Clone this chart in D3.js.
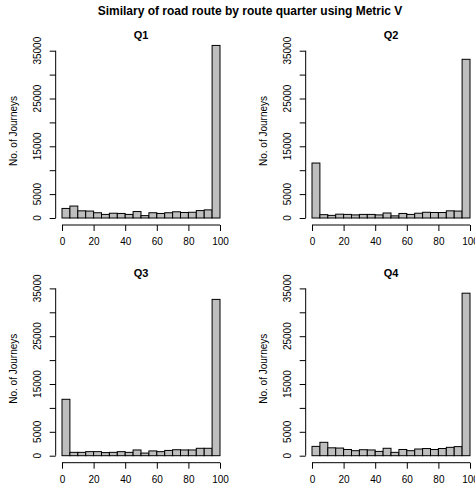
<!DOCTYPE html>
<html><head><meta charset="utf-8">
<script src="https://cdn.jsdelivr.net/npm/d3@7"></script>
<style>body{margin:0;background:#fff}svg{display:block}text{font-family:"Liberation Sans",Arial,Helvetica,sans-serif;fill:#000}</style>
</head><body>
<script>
const mainTitle = "Similary of road route by route quarter using Metric V";
const panelTitles = ["Q1", "Q2", "Q3", "Q4"];
const yLabel = "No. of Journeys";
const binStarts = [0,5,10,15,20,25,30,35,40,45,50,55,60,65,70,75,80,85,90,95];
const binWidth = 5;
const q1Counts = [2000,2500,1500,1450,1100,750,1000,950,750,1350,500,1100,950,1100,1300,1150,1200,1550,1700,36100];
const q2Counts = [11500,700,550,800,750,650,750,750,650,1050,450,950,750,1000,1200,1150,1150,1500,1450,33200];
const q3Counts = [11800,700,700,850,850,650,700,850,700,1200,550,1000,850,1100,1250,1200,1200,1550,1550,32700];
const q4Counts = [1950,2800,1650,1600,1300,1050,1250,1200,900,1550,700,1300,1050,1400,1500,1300,1500,1750,1900,34000];
const xTicks = [0,20,40,60,80,100];
const yTicks = [0,5000,10000,15000,20000,25000,30000,35000];
const yTickLabels = [0,5000,15000,25000,35000];

const allCounts = [q1Counts, q2Counts, q3Counts, q4Counts];

const W = 475, H = 487;
const svg = d3.select("body").append("svg").attr("width", W).attr("height", H);

svg.append("text").attr("x", 250).attr("y", 15).attr("text-anchor", "middle")
  .style("font-size", "12px").style("font-weight", "bold").text(mainTitle);

const colW = 250, rowH = 237.7;
const x = d3.scaleLinear().domain([0, 100]).range([62, 220]);
const y = d3.scaleLinear().domain([0, 35000]).range([218, 50.7]);
const plotLeft = x(-4), plotBottom = 225;

allCounts.forEach((counts, i) => {
  const col = i % 2, row = Math.floor(i / 2);
  const g = svg.append("g").attr("transform", `translate(${col * colW},${row * rowH})`);

  // bars
  g.selectAll("rect").data(binStarts).join("rect")
    .attr("x", d => x(d)).attr("width", d => x(d + binWidth) - x(d))
    .attr("y", (d, j) => y(counts[j])).attr("height", (d, j) => y(0) - y(counts[j]))
    .attr("fill", "#bebebe").attr("stroke", "#000").attr("stroke-width", 1);

  // x axis
  const xa = g.append("g").attr("transform", `translate(0,${plotBottom})`)
    .call(d3.axisBottom(x).tickValues(xTicks).tickSize(6).tickPadding(7).tickSizeOuter(0));
  xa.select(".domain").attr("d", `M${x(0)},0H${x(100)}`).attr("stroke", "#000");
  xa.selectAll(".tick line").attr("stroke", "#000");
  xa.selectAll("text").style("font-size", "10px").style("font-family", "Liberation Sans, Arial, sans-serif").attr("fill", "#000");

  // y axis
  const ya = g.append("g").attr("transform", `translate(${plotLeft},0)`)
    .call(d3.axisLeft(y).tickValues(yTicks).tickSize(6).tickSizeOuter(0).tickFormat(""));
  ya.select(".domain").attr("d", `M0,${y(0)}V${y(35000)}`).attr("stroke", "#000");
  ya.selectAll(".tick line").attr("stroke", "#000");
  g.selectAll(".ylab").data(yTickLabels).join("text").attr("class", "ylab")
    .attr("transform", d => `translate(${plotLeft - 14.5},${y(d)}) rotate(-90)`)
    .attr("text-anchor", "middle").style("font-size", "10px").text(d => d);

  g.append("text").attr("transform", `translate(17,131) rotate(-90)`)
    .attr("text-anchor", "middle").style("font-size", "10px").text(yLabel);

  g.append("text").attr("x", (plotLeft + x(104)) / 2).attr("y", 39)
    .attr("text-anchor", "middle").style("font-size", "11px").style("font-weight", "bold")
    .text(panelTitles[i]);
});
</script>
</body></html>
